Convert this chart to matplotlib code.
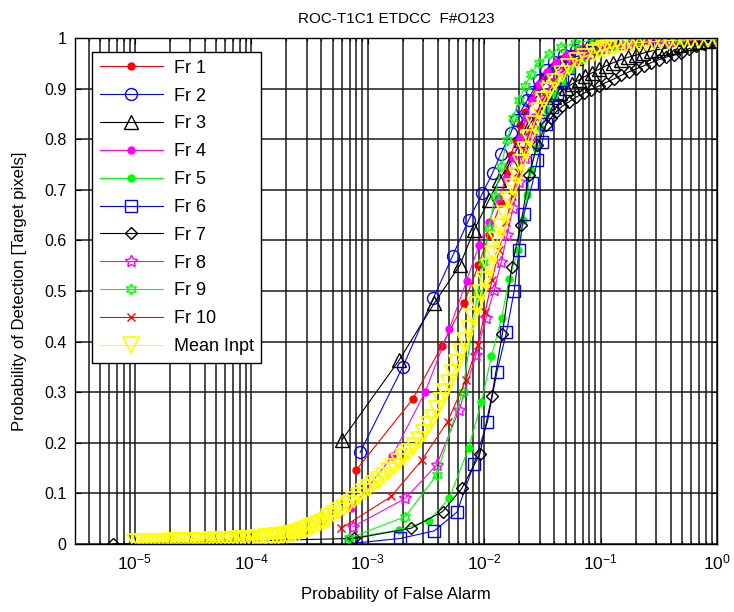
import matplotlib
matplotlib.use("Agg")
import matplotlib.pyplot as plt
from matplotlib.ticker import FixedLocator, FixedFormatter, NullFormatter

plt.rcParams['font.family'] = ['Liberation Sans', 'DejaVu Sans']
plt.rcParams['mathtext.fontset'] = 'custom'
plt.rcParams['mathtext.rm'] = 'Liberation Sans'
plt.rcParams['mathtext.it'] = 'Liberation Sans:italic'
plt.rcParams['mathtext.bf'] = 'Liberation Sans:bold'

# ---------------- data: (false alarm probability, detection probability) ----------------
fr1_x = [7.95e-4, 2.43e-3, 4.34e-3, 6.74e-3, 8.94e-3, 1.10e-2, 1.39e-2, 1.575e-2, 1.70e-2, 1.87e-2,
         2.04e-2, 2.25e-2, 2.53e-2, 2.85e-2, 3.27e-2, 3.83e-2, 4.57e-2, 5.57e-2, 7.20e-2, 9.68e-2,
         0.144, 0.26, 0.572, 1.0]
fr1_y = [0.146, 0.286, 0.392, 0.477, 0.551, 0.611, 0.674, 0.735, 0.769, 0.798,
         0.828, 0.854, 0.881, 0.905, 0.925, 0.943, 0.958, 0.970, 0.980, 0.986,
         0.990, 0.994, 0.996, 0.998]

fr2_x = [8.60e-4, 1.99e-3, 3.66e-3, 5.35e-3, 7.34e-3, 9.67e-3, 1.18e-2, 1.39e-2, 1.69e-2, 1.87e-2,
         2.13e-2, 2.35e-2, 2.60e-2, 2.96e-2, 3.40e-2, 3.98e-2, 4.85e-2, 6.15e-2, 8.27e-2, 0.118,
         0.213, 0.47, 1.0]
fr2_y = [0.181, 0.349, 0.486, 0.569, 0.640, 0.693, 0.733, 0.771, 0.812, 0.838,
         0.861, 0.877, 0.894, 0.917, 0.937, 0.953, 0.966, 0.976, 0.984, 0.990,
         0.994, 0.996, 0.998]

fr3_x = [6.03e-4, 1.87e-3, 3.73e-3, 6.19e-3, 8.21e-3, 1.10e-2, 1.345e-2, 1.69e-2, 2.08e-2, 2.53e-2,
         3.14e-2, 3.54e-2, 3.98e-2, 4.48e-2, 5.05e-2, 5.68e-2, 6.52e-2, 7.34e-2, 8.43e-2, 9.68e-2,
         0.111, 0.128, 0.149, 0.172, 0.201, 0.231, 0.270, 0.310, 0.363, 0.417,
         0.489, 0.583, 0.697, 0.832, 1.0]
fr3_y = [0.206, 0.364, 0.476, 0.551, 0.621, 0.680, 0.719, 0.756, 0.798, 0.834,
         0.862, 0.873, 0.883, 0.892, 0.901, 0.909, 0.917, 0.924, 0.931, 0.938,
         0.945, 0.951, 0.957, 0.962, 0.966, 0.970, 0.974, 0.977, 0.980, 0.983,
         0.986, 0.990, 0.993, 0.995, 0.997]

fr4_x = [7.25e-4, 1.62e-3, 3.12e-3, 5.01e-3, 7.06e-3, 9.06e-3, 1.10e-2, 1.32e-2, 1.545e-2, 1.77e-2,
         2.04e-2, 2.29e-2, 2.58e-2, 2.96e-2, 3.47e-2, 4.14e-2, 5.05e-2, 6.52e-2, 8.95e-2, 0.144,
         0.316, 1.0]
fr4_y = [0.071, 0.173, 0.301, 0.424, 0.520, 0.591, 0.636, 0.684, 0.723, 0.763,
         0.802, 0.842, 0.877, 0.909, 0.933, 0.953, 0.966, 0.978, 0.986, 0.992,
         0.996, 1.0]

fr5_x = [6.97e-4, 1.87e-3, 3.33e-3, 5.01e-3, 7.34e-3, 9.48e-3, 1.156e-2, 1.41e-2, 1.64e-2, 1.97e-2,
         2.16e-2, 2.34e-2, 2.53e-2, 2.79e-2, 3.08e-2, 3.47e-2, 3.98e-2, 4.67e-2, 5.57e-2, 6.92e-2,
         9.12e-2, 0.130, 0.213, 0.470, 1.0]
fr5_y = [0.011, 0.028, 0.046, 0.090, 0.189, 0.280, 0.372, 0.446, 0.524, 0.581,
         0.640, 0.690, 0.739, 0.783, 0.822, 0.858, 0.887, 0.913, 0.937, 0.957,
         0.972, 0.984, 0.992, 0.996, 1.0]

fr6_x = [7.20e-4, 1.91e-3, 3.73e-3, 5.84e-3, 8.16e-3, 1.068e-2, 1.285e-2, 1.553e-2, 1.81e-2, 2.00e-2,
         2.20e-2, 2.60e-2, 2.87e-2, 3.16e-2, 3.38e-2, 3.85e-2, 4.25e-2, 4.69e-2, 5.36e-2, 6.27e-2,
         7.95e-2, 0.107, 0.159, 0.316, 1.0]
fr6_y = [0.001, 0.011, 0.026, 0.063, 0.158, 0.242, 0.339, 0.418, 0.500, 0.582,
         0.653, 0.713, 0.759, 0.795, 0.830, 0.864, 0.891, 0.917, 0.941, 0.958,
         0.972, 0.982, 0.990, 0.994, 0.998]

fr7_x = [6.48e-6, 7.69e-4, 2.35e-3, 4.39e-3, 6.44e-3, 9.19e-3, 1.165e-2, 1.435e-2, 1.73e-2, 2.06e-2,
         2.43e-2, 2.85e-2, 3.40e-2, 3.75e-2, 4.14e-2, 4.67e-2, 5.36e-2, 6.15e-2, 7.20e-2, 8.27e-2,
         9.68e-2, 0.111, 0.130, 0.149, 0.175, 0.201, 0.235, 0.270, 0.316, 0.363,
         0.426, 0.489, 0.572, 0.657, 0.769, 0.866, 1.0]
fr7_y = [0.0, 0.011, 0.031, 0.064, 0.110, 0.178, 0.293, 0.416, 0.548, 0.630,
         0.729, 0.789, 0.828, 0.842, 0.854, 0.865, 0.874, 0.883, 0.891, 0.898,
         0.905, 0.912, 0.919, 0.926, 0.933, 0.939, 0.945, 0.951, 0.957, 0.962,
         0.966, 0.971, 0.979, 0.984, 0.989, 0.993, 0.996]

fr8_x = [7.43e-4, 2.10e-3, 3.90e-3, 6.11e-3, 8.49e-3, 1.04e-2, 1.22e-2, 1.40e-2, 1.575e-2, 1.77e-2,
         2.00e-2, 2.25e-2, 2.53e-2, 2.85e-2, 3.27e-2, 3.83e-2, 4.57e-2, 5.68e-2, 7.49e-2, 0.107,
         0.175, 0.386, 1.0]
fr8_y = [0.034, 0.090, 0.156, 0.265, 0.373, 0.447, 0.502, 0.557, 0.611, 0.664,
         0.715, 0.763, 0.806, 0.846, 0.881, 0.909, 0.933, 0.953, 0.968, 0.980,
         0.988, 0.994, 0.998]

fr9_x = [6.97e-4, 2.10e-3, 3.90e-3, 6.52e-3, 8.77e-3, 9.81e-3, 1.10e-2, 1.24e-2, 1.40e-2, 1.575e-2,
         1.77e-2, 2.00e-2, 2.25e-2, 2.53e-2, 2.96e-2, 3.61e-2, 4.57e-2, 6.03e-2, 8.77e-2, 0.159,
         0.47, 1.0]
fr9_y = [0.012, 0.054, 0.136, 0.301, 0.495, 0.557, 0.625, 0.688, 0.747, 0.798,
         0.842, 0.877, 0.905, 0.929, 0.951, 0.968, 0.982, 0.990, 0.996, 1.0,
         1.0, 1.0]

fr10_x = [5.91e-4, 1.59e-3, 2.92e-3, 4.85e-3, 6.97e-3, 8.77e-3, 1.02e-2, 1.17e-2, 1.345e-2, 1.545e-2,
          1.74e-2, 1.97e-2, 2.20e-2, 2.48e-2, 2.85e-2, 3.33e-2, 3.98e-2, 4.85e-2, 6.15e-2, 8.27e-2,
          0.118, 0.213, 0.470, 1.0]
fr10_y = [0.031, 0.094, 0.166, 0.242, 0.324, 0.393, 0.458, 0.522, 0.581, 0.636,
          0.688, 0.735, 0.779, 0.818, 0.854, 0.885, 0.913, 0.937, 0.957, 0.972,
          0.984, 0.992, 0.996, 0.998]

mean_x = [1.00e-5, 1.08e-5, 1.17e-5, 1.27e-5, 1.37e-5, 1.48e-5, 1.61e-5, 1.74e-5, 1.88e-5, 2.04e-5,
          2.20e-5, 2.38e-5, 2.58e-5, 2.79e-5, 3.02e-5, 3.27e-5, 3.54e-5, 3.83e-5, 4.14e-5, 4.48e-5,
          4.85e-5, 5.25e-5, 5.68e-5, 6.15e-5, 6.65e-5, 7.20e-5, 7.79e-5, 8.43e-5, 9.12e-5, 9.87e-5,
          1.07e-4, 1.16e-4, 1.25e-4, 1.35e-4, 1.47e-4, 1.59e-4, 1.72e-4, 1.86e-4, 2.01e-4, 2.18e-4,
          2.35e-4, 2.55e-4, 2.76e-4, 2.98e-4, 3.23e-4, 3.49e-4, 3.78e-4, 4.09e-4, 4.43e-4,
          4.69e-4, 5.18e-4, 5.72e-4, 6.31e-4, 6.97e-4, 7.69e-4, 8.49e-4, 9.37e-4, 1.034e-3, 1.14e-3,
          1.26e-3, 1.39e-3, 1.53e-3, 1.69e-3, 1.87e-3, 2.06e-3, 2.28e-3, 2.51e-3, 2.77e-3, 3.06e-3,
          3.38e-3, 3.66e-3, 3.96e-3, 4.28e-3, 4.63e-3, 5.01e-3, 5.43e-3, 5.87e-3, 6.35e-3, 6.88e-3,
          7.44e-3, 8.05e-3, 8.71e-3, 9.43e-3, 1.02e-2, 1.10e-2, 1.20e-2, 1.29e-2, 1.40e-2, 1.51e-2,
          1.64e-2, 1.77e-2, 1.92e-2, 2.08e-2, 2.25e-2, 2.43e-2, 2.68e-2, 2.96e-2, 3.27e-2, 3.61e-2,
          4.06e-2, 4.67e-2, 5.36e-2, 6.27e-2, 7.34e-2,
          8.77e-2, 9.68e-2, 0.107, 0.118, 0.130, 0.147, 0.165, 0.186, 0.213, 0.245,
          0.287, 0.329, 0.386, 0.443, 0.518, 0.595, 0.697, 0.832, 1.0]
mean_y = [0.003, 0.003, 0.003, 0.004, 0.004, 0.004, 0.004, 0.004, 0.004, 0.005,
          0.005, 0.005, 0.005, 0.005, 0.005, 0.006, 0.006, 0.006, 0.006, 0.007,
          0.007, 0.007, 0.007, 0.008, 0.008, 0.008, 0.009, 0.009, 0.010, 0.010,
          0.011, 0.011, 0.012, 0.013, 0.014, 0.015, 0.016, 0.017, 0.018, 0.020,
          0.022, 0.024, 0.027, 0.030, 0.033, 0.036, 0.040, 0.044, 0.048,
          0.053, 0.059, 0.066, 0.072, 0.080, 0.087, 0.095, 0.102, 0.110, 0.118,
          0.126, 0.135, 0.144, 0.153, 0.162, 0.172, 0.182, 0.193, 0.205, 0.219,
          0.235, 0.250, 0.266, 0.282, 0.300, 0.318, 0.337, 0.358, 0.380, 0.402,
          0.425, 0.448, 0.472, 0.496, 0.522, 0.548, 0.574, 0.600, 0.627, 0.653,
          0.680, 0.705, 0.728, 0.752, 0.778, 0.803, 0.830, 0.855, 0.877, 0.895,
          0.913, 0.929, 0.942, 0.954, 0.963,
          0.971, 0.975, 0.978, 0.981, 0.983, 0.986, 0.988, 0.990, 0.991, 0.992,
          0.993, 0.994, 0.995, 0.9955, 0.996, 0.9965, 0.997, 0.9975, 0.998]

series_labels = ['Fr 1', 'Fr 2', 'Fr 3', 'Fr 4', 'Fr 5', 'Fr 6', 'Fr 7', 'Fr 8', 'Fr 9', 'Fr 10',
                 'Mean Inpt']
series_x = [fr1_x, fr2_x, fr3_x, fr4_x, fr5_x, fr6_x, fr7_x, fr8_x, fr9_x, fr10_x, mean_x]
series_y = [fr1_y, fr2_y, fr3_y, fr4_y, fr5_y, fr6_y, fr7_y, fr8_y, fr9_y, fr10_y, mean_y]

x_major = [1e-5, 1e-4, 1e-3, 1e-2, 1e-1, 1e0]
x_major_labels = [r'$10^{-5}$', r'$10^{-4}$', r'$10^{-3}$', r'$10^{-2}$', r'$10^{-1}$', r'$10^{0}$']
y_ticks = [0, 0.1, 0.2, 0.3, 0.4, 0.5, 0.6, 0.7, 0.8, 0.9, 1.0]
y_tick_labels = ['0', '0.1', '0.2', '0.3', '0.4', '0.5', '0.6', '0.7', '0.8', '0.9', '1']

# ---------------- styles ----------------
styles = [
    dict(color='#ff0000', marker='o', ms=5.0, mfc='#ff0000', mew=1.0),
    dict(color='#0000ff', marker='o', ms=8.6, mfc='none', mew=1.0),
    dict(color='#000000', marker='^', ms=10.0, mfc='none', mew=1.0),
    dict(color='#ff00ff', marker='o', ms=5.0, mfc='#ff00ff', mew=1.0),
    dict(color='#00ff00', marker='o', ms=5.0, mfc='#00ff00', mew=1.0),
    dict(color='#0000ff', marker='s', ms=8.6, mfc='none', mew=1.0),
    dict(color='#000000', marker='D', ms=6.2, mfc='none', mew=1.0),
    dict(color='#ff00ff', marker=(5, 1, 0), ms=9.0, mfc='none', mew=1.0),
    dict(color='#00ff00', marker=(6, 1, 0), ms=8.0, mfc='none', mew=1.0),
    dict(color='#ff0000', marker='x', ms=5.8, mfc='none', mew=1.0),
    dict(color='#ffff00', marker='v', ms=11.0, mfc='none', mew=1.3),
]

fig = plt.figure(figsize=(7.34, 6.12), dpi=100)
ax = fig.add_axes([75 / 734, 1 - 544 / 612, 642 / 734, 506 / 612])

for lab, xs, ys, st in zip(series_labels, series_x, series_y, styles):
    ax.plot(xs, ys, '-', color=st['color'], lw=0.8, marker=st['marker'], ms=st['ms'],
            mfc=st['mfc'], mec=st['color'], mew=st['mew'], label=lab)

ax.set_xscale('log')
ax.set_xlim(3.06e-6, 1.0)
ax.set_ylim(0, 1)

ax.xaxis.set_major_locator(FixedLocator(x_major))
ax.xaxis.set_major_formatter(FixedFormatter(x_major_labels))
minor_pos = [m * 10.0 ** e for e in range(-6, 0) for m in range(2, 10)]
ax.xaxis.set_minor_locator(FixedLocator(minor_pos))
ax.xaxis.set_minor_formatter(NullFormatter())
ax.yaxis.set_major_locator(FixedLocator(y_ticks))
ax.yaxis.set_major_formatter(FixedFormatter(y_tick_labels))

ax.grid(True, which='both', axis='x', color='#1a1a1a', lw=1.1, ls='-')
ax.grid(True, which='major', axis='y', color='#1a1a1a', lw=1.1, ls='-')
ax.set_axisbelow(True)

ax.tick_params(which='both', direction='in', top=True, right=True, colors='k')
ax.tick_params(which='major', length=4, width=0.8)
ax.tick_params(which='minor', length=2.5, width=0.8)
ax.tick_params(axis='x', which='major', labelsize=12.5, pad=6)
ax.tick_params(axis='y', which='major', labelsize=11.5, pad=6)
for sp in ax.spines.values():
    sp.set_color('k')
    sp.set_linewidth(1.0)

ax.set_title('ROC-T1C1 ETDCC  F#O123', fontsize=11, pad=11)
ax.set_xlabel('Probability of False Alarm', fontsize=12)
ax.set_ylabel('Probability of Detection [Target pixels]', fontsize=12)
ax.xaxis.set_label_coords(0.5, -0.084)
ax.yaxis.set_label_coords(-0.075, 0.5)

leg = ax.legend(loc='upper left', bbox_to_anchor=(0.0265, 0.972), borderaxespad=0,
                fontsize=13, handlelength=3.5, handletextpad=0.6, labelspacing=0.6,
                borderpad=0.42, fancybox=False, framealpha=1, edgecolor='k')
leg.get_frame().set_linewidth(1.0)

fig.savefig('out.png', dpi=100)
